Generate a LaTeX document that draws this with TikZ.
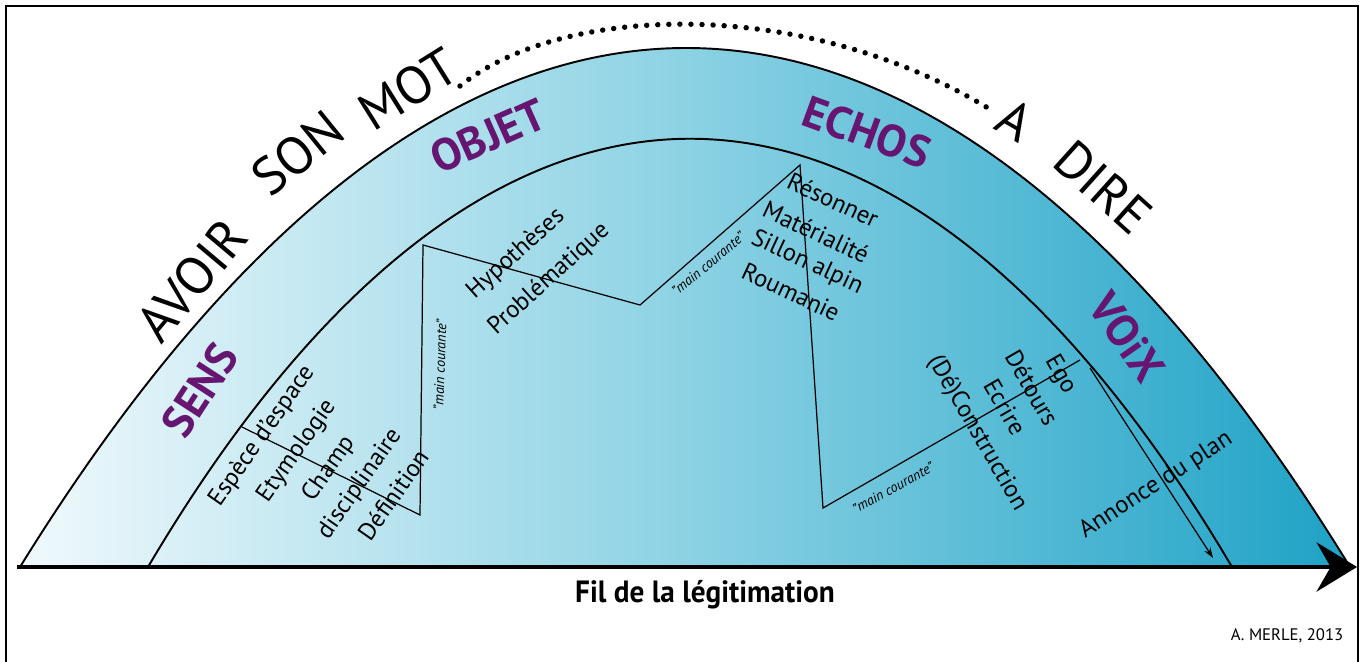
\documentclass[tikz,border=0pt]{standalone}
\usepackage{fontspec}
\setmainfont{PT Sans}
\usetikzlibrary{arrows.meta}
\definecolor{themepurple}{RGB}{102,22,112}
\definecolor{paleblue}{RGB}{240,249,252}
\definecolor{midblue}{RGB}{140,210,228}
\definecolor{deepblue}{RGB}{30,162,198}

\begin{document}
\begin{tikzpicture}[x=0.02cm, y=-0.02cm,
                    motto/.style={font=\fontsize{30}{36}\selectfont, inner sep=0pt},
                    theme/.style={font=\fontsize{25.5}{30}\selectfont\bfseries, text=themepurple, inner sep=0pt},
                    item/.style={font=\fontsize{14}{17}\selectfont, inner sep=0pt},
                    courante/.style={font=\fontsize{8}{10}\selectfont\itshape, inner sep=0pt},
                    band/.style={line width=1.1pt},
                    thread/.style={line width=0.7pt},
                    ]
\useasboundingbox (0,0) rectangle (1365,662);
\draw[line width=1.2pt] (6,662) -- (6,6) -- (1358,6) -- (1358,662);

% the arch
\coordinate (outer left) at (20,567);
\coordinate (outer right) at (1350,567);
\coordinate (inner left) at (148,567);
\coordinate (inner right) at (1232,567);
\shade[left color=paleblue, right color=deepblue, middle color=midblue]
  (outer left) .. controls (448,-125) and (925,-125) .. (outer right) -- cycle;
\draw[band] (outer left) .. controls (448,-125) and (925,-125) .. (outer right);
\draw[band] (inner left) .. controls (485,-4) and (895,-4) .. (inner right);

% fil de la legitimation
\coordinate (fil start) at (17,567);
\coordinate (fil end) at (1357,567);
\draw[line width=2.8pt, -{Stealth[length=23pt, width=28pt, inset=8pt]}] (fil start) -- (fil end);
\node[font=\fontsize{17.5}{21}\selectfont\bfseries, inner sep=0pt, xscale=0.95] (fil) at (705,595) {Fil de la légitimation};
\node[font=\fontsize{9.5}{11}\selectfont, inner sep=0pt] (credit) at (1287,636) {A. MERLE, 2013};

% motto round the arch
\node[motto, rotate=50] (avoir) at (192,280) {AVOIR};
\node[motto, rotate=39] (son) at (298,153) {SON};
\node[motto, rotate=32] (mot) at (408,89) {MOT};
\node[motto, rotate=-30] (a) at (1015,120) {A};
\node[motto, rotate=-42] (dire) at (1103,187) {DIRE};
\coordinate (dots start) at (460,86);
\coordinate (dots end) at (988,108);
\draw[line width=3.1pt, line cap=round, dash pattern=on 0pt off 6.3pt]
  (dots start) .. controls (560,5) and (800,-5) .. (dots end);

% themes
\node[theme, rotate=57] (sens) at (200,390) {SENS};
\node[theme, rotate=24] (objet) at (488,136) {OBJET};
\node[theme, rotate=-20] (echos) at (867,132) {ECHOS};
\node[theme, rotate=-55] (voix) at (1127,337) {VOiX};

% main courante
\coordinate (z1) at (242,427);
\coordinate (z2) at (420,515);
\coordinate (z3) at (423,245);
\coordinate (z4) at (640,305);
\coordinate (z5) at (800,165);
\coordinate (z6) at (823,508);
\coordinate (z7) at (1080,360);
\coordinate (plan start) at (1090,368);
\coordinate (plan end) at (1213,558);
\draw[thread] (z1) -- (z2) -- (z3) -- (z4) -- (z5) -- (z6) -- (z7);
\draw[thread, -{Stealth[length=6pt, width=4pt]}] (plan start) -- (plan end);
\node[courante, rotate=88] (mc1) at (440,365) {"main courante"};
\node[courante, rotate=40] (mc2) at (708,264) {"main courante"};
\node[courante, rotate=29] (mc3) at (893,488) {"main courante"};

% items
\node[item, rotate=55] (espece) at (262,436) {Espèce d'espace};
\node[item, rotate=55] (etymo) at (297,451) {Etymologie};
\node[item, rotate=55] (champ) at (329,469) {Champ};
\node[item, rotate=55] (discipl) at (360,484) {disciplinaire};
\node[item, rotate=55] (defin) at (393,495) {Définition};

\node[item, rotate=42] (hypo) at (516,254) {Hypothèses};
\node[item, rotate=42] (proble) at (549,279) {Problématique};

\node[item, rotate=-25] (reson) at (833,200) {Résonner};
\node[item, rotate=-25] (materi) at (816,232) {Matérialité};
\node[item, rotate=-25] (sillon) at (807,263) {Sillon alpin};
\node[item, rotate=-25] (roum) at (791,292) {Roumanie};

\node[item, rotate=-60] (decons) at (977,433) {(Dé)Construction};
\node[item, rotate=-60] (ecrire) at (1005,407) {Ecrire};
\node[item, rotate=-60] (detours) at (1032,388) {Détours};
\node[item, rotate=-60] (ego) at (1060,375) {Ego};

\node[item, rotate=33] (annonce) at (1156,485) {Annonce du plan};
\end{tikzpicture}
\end{document}
